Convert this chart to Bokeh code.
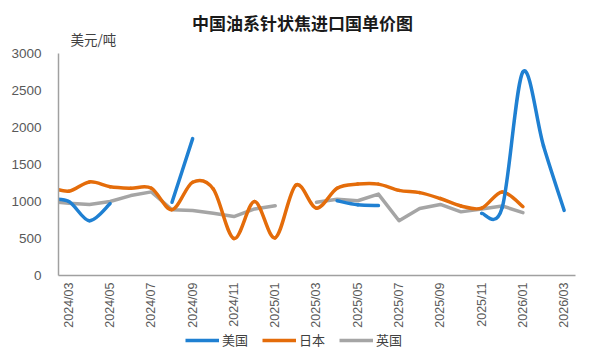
import math
from bokeh.plotting import figure
from bokeh.layouts import column
from bokeh.models import Range1d, FixedTicker, Label, Legend, LegendItem
from bokeh.embed import file_html
from bokeh.resources import INLINE

# ---- data ----
months = ["2024/02", "2024/03", "2024/04", "2024/05", "2024/06", "2024/07", "2024/08",
          "2024/09", "2024/10", "2024/11", "2024/12", "2025/01", "2025/02", "2025/03",
          "2025/04", "2025/05", "2025/06", "2025/07", "2025/08", "2025/09", "2025/10",
          "2025/11", "2025/12", "2026/01", "2026/02", "2026/03"]
usa = [1030, 1000, 740, 970, None, None, 990, 1850, None, None, None, None, None, None,
       1010, 955, 945, None, None, None, None, 840, 920, 2750, 1750, 880]
japan = [1200, 1140, 1265, 1200, 1180, 1180, 890, 1260, 1170, 500, 1000, 510, 1220, 910,
         1180, 1235, 1235, 1150, 1120, 1040, 940, 910, 1130, 930, None, None]
uk = [1003, 977, 960, 1000, 1080, 1130, 888, 878, 840, 797, 900, 942, None, 990,
      1030, 1010, 1100, 740, 905, 960, 860, 900, 940, 850, None, None]
tick_months = ["2024/03", "2024/05", "2024/07", "2024/09", "2024/11", "2025/01", "2025/03",
               "2025/05", "2025/07", "2025/09", "2025/11", "2026/01", "2026/03"]
y_ticks = [0, 500, 1000, 1500, 2000, 2500, 3000]
series_names = ["美国", "日本", "英国"]
title_text = "中国油系针状焦进口国单价图"
unit_text = "美元/吨"

BLUE = "#1F80D2"
ORANGE = "#E46C0A"
GRAY = "#A5A5A5"
COLORS = [BLUE, ORANGE, GRAY]

# ---- layout geometry (pixels) ----
W, H_MAIN, H_LEG = 600, 330, 22
LEFT, RIGHT, BOTTOM = 58, 25, 55
FRAME_W = W - LEFT - RIGHT            # 517
FRAME_H = H_MAIN - BOTTOM             # 275 (frame starts at the top edge)
Y_MAX_TICK_PX = 222                   # pixel height of the 0..3000 span
X0, X1 = 0.5, 25.55
Y1 = 3000 * FRAME_H / Y_MAX_TICK_PX


def data_x(px):
    return X0 + (px - LEFT) * (X1 - X0) / FRAME_W


def data_y(py):
    return (FRAME_H - py) * Y1 / FRAME_H


def nan_list(vals):
    return [float("nan") if v is None else float(v) for v in vals]


def runs(vals):
    out, cur = [], []
    for i, v in enumerate(vals):
        if v is None:
            if cur:
                out.append(cur)
            cur = []
        else:
            cur.append((float(i), float(v)))
    if cur:
        out.append(cur)
    return out


def bezier_parts(vals):
    d = dict(x0=[], y0=[], x1=[], y1=[], cx0=[], cy0=[], cx1=[], cy1=[])
    for r in runs(vals):
        n = len(r)
        for k in range(n - 1):
            p0 = r[k - 1] if k > 0 else r[k]
            p1 = r[k]
            p2 = r[k + 1]
            p3 = r[k + 2] if k + 2 < n else r[k + 1]
            d["x0"].append(p1[0]); d["y0"].append(p1[1])
            d["x1"].append(p2[0]); d["y1"].append(p2[1])
            d["cx0"].append(p1[0] + (p2[0] - p0[0]) / 6); d["cy0"].append(p1[1] + (p2[1] - p0[1]) / 6)
            d["cx1"].append(p2[0] - (p3[0] - p1[0]) / 6); d["cy1"].append(p2[1] - (p3[1] - p1[1]) / 6)
    return d


p = figure(width=W, height=H_MAIN, output_backend="svg", toolbar_location=None,
           x_range=Range1d(X0, X1), y_range=Range1d(0, Y1),
           min_border_left=LEFT, min_border_right=RIGHT, min_border_top=0,
           min_border_bottom=BOTTOM)
p.outline_line_color = None
p.grid.visible = False
p.background_fill_color = "white"
p.border_fill_color = "white"

xs = list(range(len(months)))

p.line(xs, nan_list(uk), line_color=GRAY, line_width=3.5, line_join="round", line_cap="round")
p.bezier(**bezier_parts(japan), line_color=ORANGE, line_width=3.5, line_cap="round")
p.bezier(**bezier_parts(usa), line_color=BLUE, line_width=3.5, line_cap="round")

# axes
p.xaxis.ticker = FixedTicker(ticks=[months.index(m) for m in tick_months])
p.xaxis.major_label_overrides = {months.index(m): m for m in tick_months}
p.xaxis.major_label_orientation = math.pi / 2
p.yaxis.ticker = FixedTicker(ticks=y_ticks)
p.yaxis.bounds = (0, 3000)
for ax in (p.xaxis[0], p.yaxis[0]):
    ax.axis_line_color = "#A0A0A0"
    ax.axis_line_width = 1.5
    ax.major_tick_line_color = None
    ax.minor_tick_line_color = None
    ax.major_tick_out = 0
    ax.major_tick_in = 0
    ax.major_label_text_color = "#595959"
    ax.major_label_text_font = "Liberation Sans"
p.xaxis.major_label_text_font_size = "12.5px"
p.xaxis.major_label_standoff = 7
p.yaxis.major_label_text_font_size = "13.5px"
p.yaxis.major_label_standoff = 17

p.add_layout(Label(x=data_x(302), y=data_y(22), text=title_text,
                   text_align="center", text_baseline="middle",
                   text_font="Noto Sans CJK SC", text_font_style="bold",
                   text_font_size="17px", text_color="#1a1a1a"))
p.add_layout(Label(x=data_x(70), y=data_y(38), text=unit_text,
                   text_align="left", text_baseline="middle",
                   text_font="Noto Sans CJK SC", text_font_size="13.5px",
                   text_color="#404040"))

# ---- legend strip (its plot frame is aligned with the main frame by the column) ----
lg = figure(width=W, height=H_LEG, output_backend="svg", toolbar_location=None,
            x_range=Range1d(-3, -2), y_range=Range1d(-3, -2), x_axis_type=None, y_axis_type=None,
            min_border_left=LEFT, min_border_right=RIGHT, min_border_top=0, min_border_bottom=0)
lg.outline_line_color = None
lg.grid.visible = False
r_leg = [lg.line(xs, nan_list(vals), line_color=c, line_width=3.5)
         for vals, c in zip((usa, japan, uk), COLORS)]
legend = Legend(items=[LegendItem(label=n, renderers=[r]) for n, r in zip(series_names, r_leg)],
                orientation="horizontal", location=(185 - LEFT, 3),
                glyph_width=34, glyph_height=14, label_standoff=3, spacing=14,
                label_text_font="Noto Sans CJK SC", label_text_font_size="13px",
                label_text_color="#404040", background_fill_alpha=0, border_line_alpha=0,
                padding=0, margin=0)
lg.add_layout(legend, "center")

layout = column(p, lg, spacing=0)
open("out.html", "w").write(file_html(layout, INLINE))
